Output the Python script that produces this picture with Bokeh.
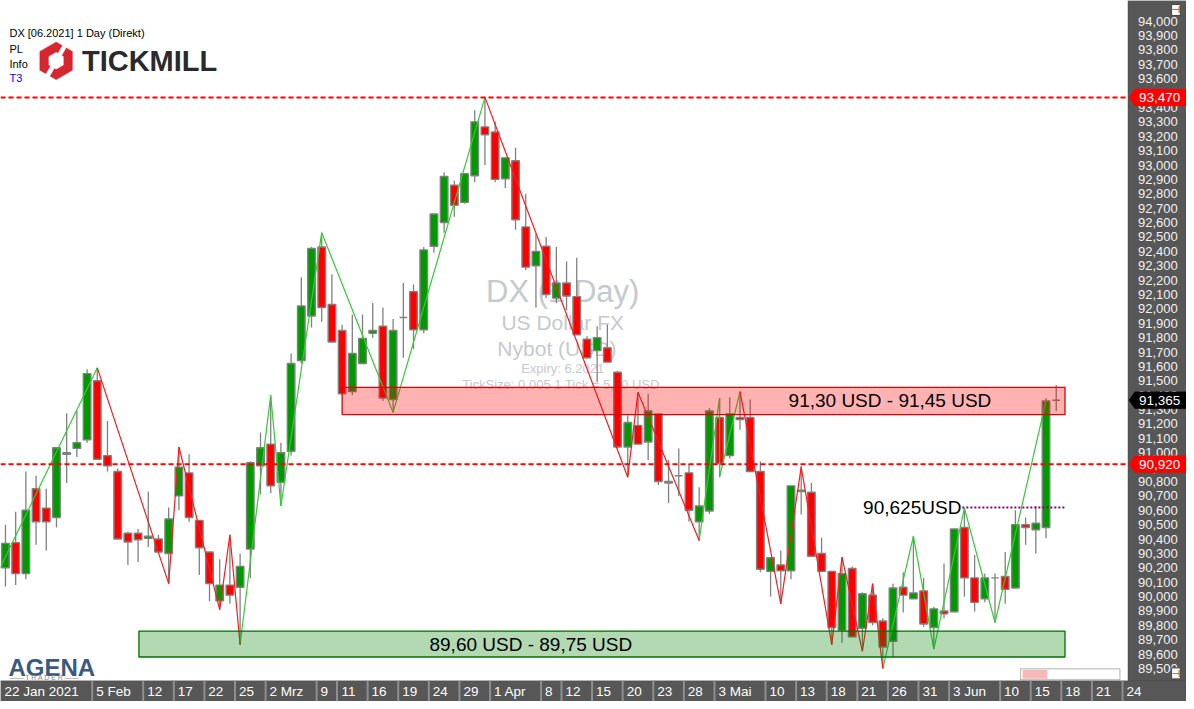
import math
from bokeh.plotting import figure
from bokeh.models import (Range1d, FixedTicker, CustomJSTickFormatter, Label,
                          PolyAnnotation, BoxAnnotation, ColumnDataSource)
from bokeh.embed import file_html
from bokeh.resources import INLINE

# ---------------- data ----------------
opens = [90.20, 90.375, 90.16, 90.75, 90.615, 90.55, 90.99, 91.03, 91.09, 91.50,
         90.98, 90.87, 90.44, 90.44, 90.405, 90.40, 90.30, 90.70, 90.86, 90.53,
         90.31, 89.97, 90.08, 90.065, 90.33, 90.91, 91.06, 90.795, 91.01, 91.64,
         91.95, 92.43, 92.03, 91.85, 91.425, 91.62, 91.83, 91.88, 91.37, 91.94,
         92.12, 91.855, 92.435, 92.60, 92.86, 92.74, 92.925, 93.265, 93.23, 92.905,
         93.03, 92.57, 92.30, 92.435, 92.075, 92.18, 92.085, 91.79, 91.71, 91.73,
         91.56, 91.04, 91.19, 91.075, 91.27, 90.80, 90.84, 90.86, 90.52, 90.595,
         91.245, 90.98, 91.245, 91.245, 90.87, 90.175, 90.22, 90.18, 90.73, 90.725,
         90.30, 90.175, 89.765, 90.195, 89.78, 90.01, 89.83, 89.69, 90.065, 89.985,
         90.04, 89.785, 89.90, 89.895, 90.48, 90.13, 89.985, 90.13, 90.14, 90.06,
         90.50, 90.465, 90.48, 91.365]
highs = [90.50, 90.59, 90.87, 90.84, 90.75, 91.04, 91.275, 91.29, 91.58, 91.59,
         91.22, 90.89, 90.45, 90.47, 90.73, 90.43, 90.62, 91.04, 90.99, 90.53,
         90.31, 90.26, 90.43, 90.30, 90.94, 91.14, 91.40, 91.07, 91.69, 92.22,
         92.43, 92.53, 92.24, 91.89, 91.96, 91.96, 92.04, 92.01, 91.93, 92.18,
         92.17, 92.43, 92.66, 92.95, 92.89, 92.94, 93.38, 93.47, 93.30, 93.05,
         93.12, 92.80, 92.52, 92.50, 92.43, 92.33, 92.355, 91.81, 91.88, 91.89,
         91.57, 91.26, 91.42, 91.41, 91.27, 90.95, 91.03, 90.92, 90.76, 91.31,
         91.38, 91.385, 91.425, 91.37, 90.94, 90.27, 90.32, 90.77, 90.91, 90.79,
         90.41, 90.18, 90.275, 90.21, 90.03, 90.09, 89.85, 90.09, 90.17, 90.42,
         90.13, 89.93, 90.23, 90.47, 90.615, 90.29, 90.16, 90.16, 90.31, 90.60,
         90.55, 90.63, 91.38, 91.47]
lows = [90.07, 90.08, 90.12, 90.36, 90.32, 90.48, 90.79, 90.97, 91.07, 90.95,
        90.87, 90.40, 90.22, 90.24, 90.345, 90.31, 90.09, 90.60, 90.52, 90.15,
        89.97, 89.91, 89.95, 89.665, 90.13, 90.71, 90.72, 90.63, 90.98, 91.62,
        91.87, 91.91, 91.77, 91.41, 91.40, 91.62, 91.80, 91.36, 91.28, 91.66,
        91.72, 91.83, 92.39, 92.53, 92.64, 92.73, 92.88, 93.00, 92.88, 92.84,
        92.55, 92.27, 92.01, 92.075, 92.04, 91.99, 91.82, 91.65, 91.49, 91.63,
        91.03, 90.83, 91.06, 90.95, 90.775, 90.65, 90.70, 90.52, 90.39, 90.575,
        90.83, 90.96, 91.16, 90.87, 90.17, 90.00, 89.95, 90.12, 90.57, 90.28,
        90.175, 89.665, 89.68, 89.72, 89.62, 89.80, 89.50, 89.575, 89.89, 89.985,
        89.79, 89.635, 89.85, 89.89, 90.00, 89.895, 89.96, 89.82, 89.95, 90.06,
        90.36, 90.30, 90.405, 91.29]
closes = [90.37, 90.16, 90.60, 90.52, 90.52, 91.035, 91.00, 91.07, 91.55, 90.955,
          90.91, 90.40, 90.38, 90.395, 90.42, 90.31, 90.54, 90.90, 90.55, 90.34,
          90.09, 90.08, 90.01, 90.21, 90.93, 91.035, 90.77, 91.00, 91.62, 92.02,
          92.42, 92.01, 91.77, 91.41, 91.69, 91.795, 91.85, 91.38, 91.85, 91.94,
          91.855, 92.41, 92.66, 92.92, 92.72, 92.94, 93.30, 93.21, 92.90, 93.05,
          92.62, 92.29, 92.40, 92.10, 92.18, 92.09, 91.82, 91.66, 91.80, 91.63,
          91.04, 91.21, 91.06, 91.29, 90.80, 90.79, 90.84, 90.60, 90.63, 91.29,
          90.925, 91.27, 91.23, 90.87, 90.19, 90.27, 90.18, 90.77, 90.74, 90.28,
          90.175, 89.785, 90.16, 89.72, 90.02, 89.82, 89.65, 90.06, 90.01, 90.025,
          89.81, 89.915, 89.88, 90.47, 90.13, 89.96, 90.13, 90.13, 90.05, 90.50,
          90.48, 90.51, 91.36, 91.365]
bars = list(range(len(opens)))

# zigzag swing lines (bar index, price)
zz_green_x = [[-1, 9], [23, 26, 27, 31, 38, 47], [68, 70, 70, 72], [86, 89, 91, 94, 97, 102]]
zz_green_y = [[90.13, 91.59], [89.665, 91.40, 90.63, 92.53, 91.28, 93.47],
              [90.39, 91.38, 90.83, 91.425], [89.50, 90.42, 89.635, 90.615, 89.82, 91.36]]
zz_red_x = [[9, 16, 17, 21, 22, 23], [47, 61, 62, 68], [72, 76, 78, 81, 82, 84, 85, 86]]
zz_red_y = [[91.59, 90.09, 91.04, 89.91, 90.43, 89.665], [93.47, 90.83, 91.42, 90.39],
            [91.425, 89.95, 90.90, 89.665, 90.275, 89.62, 90.09, 89.50]]

# horizontal levels
level_prices = [93.47, 90.92]
level_texts = ["93,470", "90,920"]
last_price = 91.365
last_text = "91,365"

# zones
resist_zone = dict(left=33.0, right=103.86, bottom=91.265, top=91.455)
resist_text = "91,30 USD - 91,45 USD"
support_zone = dict(left=13.08, right=103.86, bottom=89.58, top=89.76)
support_text = "89,60 USD - 89,75 USD"
swing_level = 90.62
swing_start = 93.8
swing_text = "90,625USD"

# price axis ticks
price_ticks = [89.5, 89.6, 89.7, 89.8, 89.9, 90.0, 90.1, 90.2, 90.3, 90.4, 90.5, 90.6,
               90.7, 90.8, 90.9, 91.0, 91.1, 91.2, 91.3, 91.4, 91.5, 91.6, 91.7, 91.8,
               91.9, 92.0, 92.1, 92.2, 92.3, 92.4, 92.5, 92.6, 92.7, 92.8, 92.9, 93.0,
               93.1, 93.2, 93.3, 93.4, 93.5, 93.6, 93.7, 93.8, 93.9, 94.0]

# date axis labels (bar index of each labelled day)
date_text = ["22 Jan 2021", "5 Feb", "12", "17", "22", "25", "2 Mrz", "9", "11", "16", "19",
             "24", "29", "1 Apr", "8", "12", "15", "20", "23", "28", "3 Mai", "10", "13",
             "18", "21", "26", "31", "3 Jun", "10", "15", "18", "21", "24"]
date_bar = [-1, 9, 14, 17, 20, 23, 26, 31, 33, 36, 39, 42, 45, 48, 53, 55, 58, 61, 64, 67,
            70, 75, 78, 81, 84, 87, 90, 93, 98, 101, 104, 107, 110]

# ---------------- layout ----------------
W, H = 1186, 701
X0, X1 = -0.487, 115.77          # reference pixel columns 0 .. 1194
Y0, Y1 = 89.2708, 94.1436        # reference pixel rows 709 .. 0
PANEL_X = 110.03                 # left edge of the price panel
PANEL_Y = 89.415                 # top edge of the date panel
SX = W / 1194.0
SY = H / 709.0
PPB = W / (X1 - X0)
PPU = H / (Y1 - Y0)
FONT = "Liberation Sans"
PANEL = "#575757"


def sx(xr):
    return xr * SX


def sy(yr):
    return H - yr * SY


p = figure(width=W, height=H, x_range=Range1d(X0, X1), y_range=Range1d(Y0, Y1),
           y_axis_location="right", output_backend="svg", toolbar_location=None,
           min_border=0, border_fill_color="white",
           background_fill_color="white", outline_line_color=None)
p.grid.visible = False

# gray axis panels
p.add_layout(BoxAnnotation(left=PANEL_X, fill_color=PANEL, fill_alpha=1, line_color="#3a3a3a",
                           line_width=1, level="underlay"))
p.add_layout(BoxAnnotation(top=PANEL_Y, fill_color=PANEL, fill_alpha=1, line_color="#3a3a3a",
                           line_width=1, level="underlay"))

# ---- price axis
ya = p.yaxis[0]
ya.fixed_location = PANEL_X
ya.ticker = FixedTicker(ticks=price_ticks)
ya.formatter = CustomJSTickFormatter(code="return tick.toFixed(3).replace('.', ',')")
ya.axis_line_color = None
ya.major_tick_line_color = None
ya.minor_tick_line_color = None
ya.major_tick_out = 0
ya.major_tick_in = 0
ya.minor_tick_out = 0
ya.minor_tick_in = 0
ya.major_label_standoff = 10
ya.major_label_text_color = "#f2f2f2"
ya.major_label_text_font = FONT
ya.major_label_text_font_size = "13px"

# ---- date axis
cw = {' ': .278, 'J': .5, 'a': .556, 'n': .556, 'F': .611, 'e': .556, 'b': .556,
      'M': .833, 'r': .333, 'z': .5, 'A': .667, 'p': .556, 'i': .222, 'u': .556}
DFS = 13.5
seps, centers = [], []
for t, b in zip(date_text, date_bar):
    s = max(b - 0.5, X0)
    w = sum(cw.get(ch, .556) for ch in t) * DFS
    seps.append(s)
    centers.append(s + (4 * SX + w / 2) / PPB)
xa = p.xaxis[0]
xa.fixed_location = PANEL_Y
xa.ticker = FixedTicker(ticks=centers)
xa.formatter = CustomJSTickFormatter(args=dict(pos=centers, txt=date_text), code="""
let best = -1, d = 1e9;
for (let i = 0; i < pos.length; i++) { const e = Math.abs(pos[i] - tick); if (e < d) { d = e; best = i; } }
return d < 1e-6 ? txt[best] : '';
""")
xa.axis_line_color = None
xa.major_tick_line_color = None
xa.minor_tick_line_color = None
xa.major_tick_out = 0
xa.major_tick_in = 0
xa.minor_tick_out = 0
xa.minor_tick_in = 0
xa.major_label_standoff = 3
xa.major_label_text_color = "white"
xa.major_label_text_font = FONT
xa.major_label_text_font_size = "13.5px"

# separators between date labels
sep_x = [s for s in seps if s > X0]
p.segment(x0=sep_x, x1=sep_x, y0=[Y0] * len(sep_x), y1=[PANEL_Y] * len(sep_x),
          line_color="#8e8e8e", line_width=2)

# ---- watermark
wm = [("DX (1 Day)", 294, "31px"), ("US Dollar FX", 326, "21px"), ("Nybot   (USD)", 352, "21px"),
      ("Expiry: 6.2021", 372, "13px"), ("TickSize: 0,005  1 Tick = 5,00 USD", 388, "13px")]
for t, yy, fs in wm:
    p.add_layout(Label(x=sx(566), y=sy(yy), x_units="screen", y_units="screen", text=t,
                       text_align="center", text_baseline="middle", text_color="#c6c9d0",
                       text_font=FONT, text_font_size=fs, level="underlay"))

# ---- candles
cols = ["#009900" if c > o else ("#ff0000" if c < o else "#808080") for o, c in zip(opens, closes)]
src = ColumnDataSource(dict(x=bars, o=opens, h=highs, l=lows, c=closes,
                            top=[max(o, c) for o, c in zip(opens, closes)],
                            bot=[min(o, c) for o, c in zip(opens, closes)], col=cols))
p.segment(x0="x", y0="l", x1="x", y1="h", source=src, line_color="#808080", line_width=1.3)
p.vbar(x="x", width=0.74, top="top", bottom="bot", fill_color="col", line_color="#808080",
       line_width=1.4, source=src)

# ---- zigzag
p.multi_line(xs=zz_green_x, ys=zz_green_y, line_color="#33cc33", line_width=1.2)
p.multi_line(xs=zz_red_x, ys=zz_red_y, line_color="#ff1a1a", line_width=1.2)

# ---- zones
p.quad(left=[resist_zone["left"]], right=[resist_zone["right"]], bottom=[resist_zone["bottom"]],
       top=[resist_zone["top"]], fill_color="#ff0000", fill_alpha=0.3, line_color="#e00000",
       line_width=1.3)
p.quad(left=[support_zone["left"]], right=[support_zone["right"]], bottom=[support_zone["bottom"]],
       top=[support_zone["top"]], fill_color="#008000", fill_alpha=0.3, line_color="#007000",
       line_width=1.3)
p.add_layout(Label(x=86.7, y=(resist_zone["bottom"] + resist_zone["top"]) / 2, text=resist_text,
                   text_align="center", text_baseline="middle", text_font=FONT,
                   text_font_size="19px", text_color="black"))
p.add_layout(Label(x=51.5, y=(support_zone["bottom"] + support_zone["top"]) / 2, text=support_text,
                   text_align="center", text_baseline="middle", text_font=FONT,
                   text_font_size="19px", text_color="black"))

# ---- swing level
p.segment(x0=[swing_start], y0=[swing_level], x1=[resist_zone["right"]], y1=[swing_level],
          line_color="#800080", line_width=2, line_dash="2 2")
p.add_layout(Label(x=swing_start - 0.1, y=swing_level, text=swing_text, text_align="right",
                   text_baseline="middle", text_font=FONT, text_font_size="19px",
                   text_color="black"))

# ---- dashed levels (up to the price panel)
p.segment(x0=[X0] * len(level_prices), x1=[PANEL_X] * len(level_prices), y0=level_prices,
          y1=level_prices, line_color="#ff0000", line_width=2, line_dash="5 3")

# ---- price markers on the axis panel
hh = 8.5 / PPU
marks = [(level_prices[0], level_texts[0], "#ff0000"), (level_prices[1], level_texts[1], "#ff0000"),
         (last_price, last_text, "#000000")]
for pr, t, c in marks:
    p.add_layout(PolyAnnotation(xs=[sx(1136), sx(1142), sx(1194), sx(1194), sx(1142)],
                                ys=[pr, pr + hh, pr + hh, pr - hh, pr - hh],
                                xs_units="screen", ys_units="data", fill_color=c, fill_alpha=1,
                                line_color=c, level="overlay"))
    p.add_layout(Label(x=sx(1167), x_units="screen", y=pr, text=t, text_align="center",
                       text_baseline="middle", text_color="white", text_font=FONT,
                       text_font_size="13.5px", level="overlay"))

# ---- top-left header
hdr = [("DX [06.2021] 1 Day (Direkt)", 27, "black"), ("PL", 43, "black"), ("Info", 58, "black"),
       ("T3", 72, "#0000ff")]
for t, yy, c in hdr:
    p.add_layout(Label(x=sx(9), y=sy(yy), x_units="screen", y_units="screen", text=t,
                       text_baseline="top", text_color=c, text_font=FONT, text_font_size="11px"))

# Tickmill logo
cx, cy = sx(56), sy(61)
R, r = 19 * SX, 8.5 * SX
hexo = [(cx + R * math.cos(math.radians(a)), cy + R * math.sin(math.radians(a))) for a in range(90, 450, 60)]
hexi = [(cx + r * math.cos(math.radians(a)), cy + r * math.sin(math.radians(a))) for a in range(90, 450, 60)]
p.add_layout(PolyAnnotation(xs=[v[0] for v in hexo], ys=[v[1] for v in hexo], xs_units="screen",
                            ys_units="screen", fill_color="#d8262e", fill_alpha=1, line_color="#d8262e"))
p.add_layout(PolyAnnotation(xs=[v[0] for v in hexi], ys=[v[1] for v in hexi], xs_units="screen",
                            ys_units="screen", fill_color="white", fill_alpha=1, line_color="white"))
ang = math.radians(60)
dx, dy = math.cos(ang), math.sin(ang)
nx, ny = -dy, dx
hw = 2.2
band = [(cx + dx * 22 + nx * hw, cy + dy * 22 + ny * hw), (cx + dx * 22 - nx * hw, cy + dy * 22 - ny * hw),
        (cx - dx * 22 - nx * hw, cy - dy * 22 - ny * hw), (cx - dx * 22 + nx * hw, cy - dy * 22 + ny * hw)]
p.add_layout(PolyAnnotation(xs=[v[0] for v in band], ys=[v[1] for v in band], xs_units="screen",
                            ys_units="screen", fill_color="white", fill_alpha=1, line_color="white"))
p.add_layout(Label(x=sx(82), y=sy(45), x_units="screen", y_units="screen", text="TICKMILL",
                   text_baseline="top", text_color="#2a2a2a", text_font=FONT,
                   text_font_size="29px", text_font_style="bold"))

# Agena logo
p.add_layout(Label(x=sx(8), y=sy(661), x_units="screen", y_units="screen", text="AGENA",
                   text_baseline="top", text_color="#3a5a80", text_font=FONT,
                   text_font_size="24px", text_font_style="bold"))
p.add_layout(Label(x=sx(9), y=sy(681), x_units="screen", y_units="screen", text="—— T R A D E R ——",
                   text_baseline="top", text_color="#8a8a8a", text_font=FONT, text_font_size="7px"))

# scroll box bottom right
p.add_layout(BoxAnnotation(left=sx(1027), right=sx(1127), bottom=sy(687), top=sy(676),
                           left_units="screen", right_units="screen", top_units="screen",
                           bottom_units="screen", fill_color="white", fill_alpha=1,
                           line_color="black", line_width=1))
p.add_layout(BoxAnnotation(left=sx(1029), right=sx(1054), bottom=sy(686), top=sy(677),
                           left_units="screen", right_units="screen", top_units="screen",
                           bottom_units="screen", fill_color="#f6b8b8", fill_alpha=1,
                           line_color=None))

# pin buttons on the price panel
for yy in (4, 675):
    p.add_layout(Label(x=sx(1179), y=sy(yy), x_units="screen", y_units="screen", text="⊣",
                       text_baseline="top", text_color="#222222", text_font="DejaVu Sans",
                       text_font_size="10px", background_fill_color="white",
                       border_line_color="#444444", level="overlay"))

open("out.html", "w").write(file_html(p, INLINE))
